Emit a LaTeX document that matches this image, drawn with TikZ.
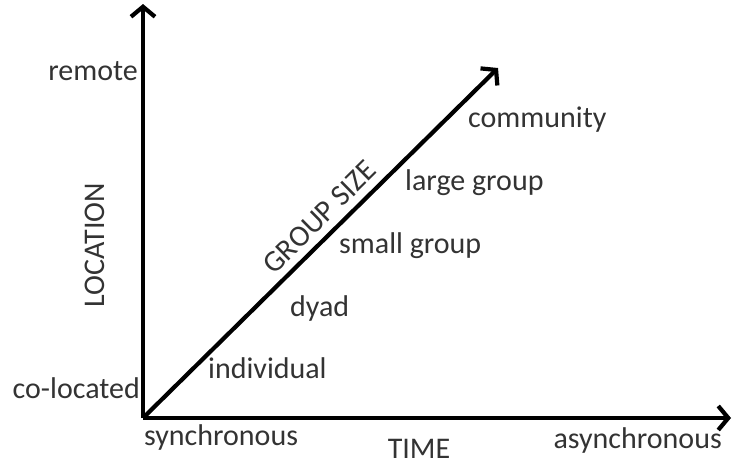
\documentclass[tikz,border=0pt]{standalone}
\usepackage{fontspec}
\setmainfont{Carlito}
\usetikzlibrary{arrows.meta}

\tikzset{
  axis/.style={line width=4.2pt, -{Straight Barb[length=10pt,width=24pt]}},
  lbl/.style={font=\fontsize{30}{36}\selectfont, text=black!80, inner sep=0pt}
}

\begin{document}
\begin{tikzpicture}[x=1pt,y=-1pt]
\useasboundingbox (0,0) rectangle (732,466);
% axes
\coordinate (o) at (143,418);
\coordinate (top) at (143,4);
\coordinate (right) at (731,418);
\coordinate (diag) at (498,68);
\draw[axis] (o) -- (top);
\draw[axis] (o) -- (right);
\draw[axis] (o) -- (diag);
\path (o) -- (diag) node[lbl, pos=0.535, sloped, above=9pt] (gsize) {GROUP SIZE};
% axis labels
\node[lbl, anchor=east] (remote) at (138,71) {remote};
\node[lbl, anchor=east] (coloc) at (140,388) {co-located};
\node[lbl, rotate=90] (loc) at (95,245) {LOCATION};
\node[lbl, anchor=west] (sync) at (144,437) {synchronous};
\node[lbl] (time) at (419,449) {TIME};
\node[lbl, anchor=east] (async) at (722,440) {asynchronous};
% group sizes
\node[lbl, anchor=west] (indiv) at (208,368) {individual};
\node[lbl, anchor=west] (dyad) at (290,308) {dyad};
\node[lbl, anchor=west] (small) at (339,246) {small group};
\node[lbl, anchor=west] (large) at (405,183) {large group};
\node[lbl, anchor=west] (comm) at (468,120) {community};
\end{tikzpicture}
\end{document}
